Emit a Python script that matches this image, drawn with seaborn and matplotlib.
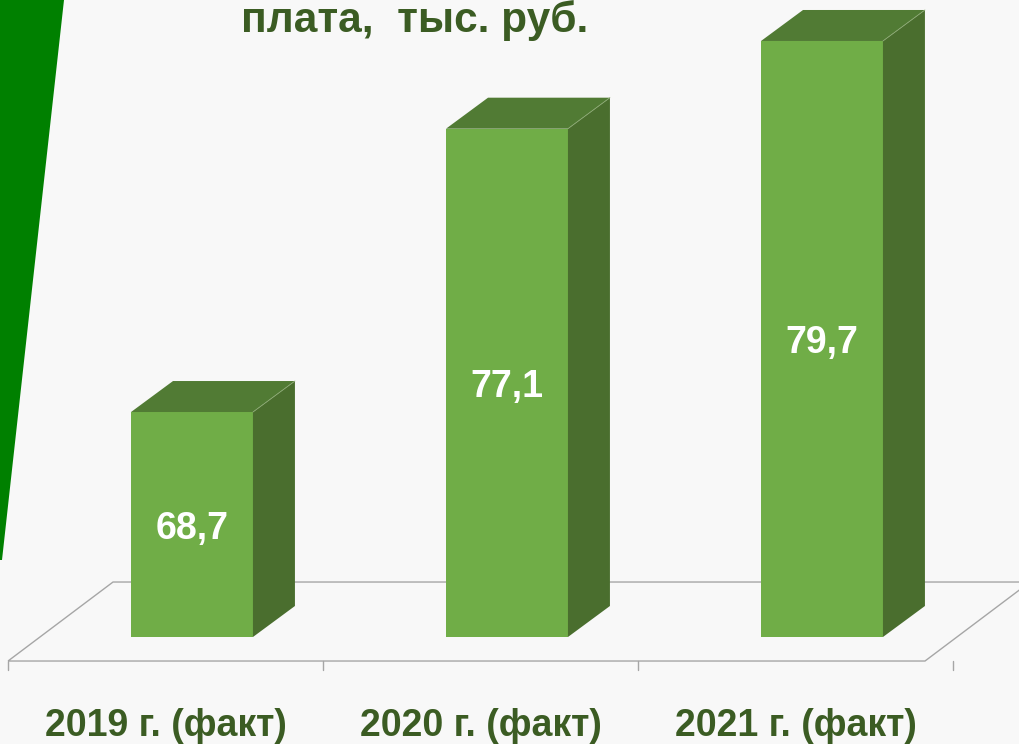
import matplotlib
matplotlib.use("Agg")
import matplotlib.pyplot as plt
from matplotlib.patches import Polygon
import seaborn as sns
import pandas as pd

# Data
categories = ["2019 г. (факт)", "2020 г. (факт)", "2021 г. (факт)"]
values = [68.7, 77.1, 79.7]
value_labels = ["68,7", "77,1", "79,7"]
title = "плата,  тыс. руб."

# Colors
bg = "#F8F8F8"
front = "#70AD47"
side = "#4A6E2E"
top = "#517B34"
text_green = "#3B5C23"

sns.set_style("white")
plt.rcParams['font.family'] = ['Liberation Sans', 'DejaVu Sans']

fig = plt.figure(figsize=(10.19, 7.44), dpi=100, facecolor=bg)
ax = fig.add_axes([0, 107 / 744, 1, 637 / 744])
ax.set_facecolor(bg)

df = pd.DataFrame({"year": categories, "value": values})
sns.barplot(data=df, x="year", y="value", width=0.387, color=front,
            saturation=1, edgecolor="none", ax=ax)

ymin, ymax = 62.03, 80.915
ax.set_xlim(-0.6095, 2.6254)
ax.set_ylim(ymin, ymax)
ax.axis("off")

# 3D depth of the bars (in data units)
dx, dy = 0.1333, 0.919
for p, v, lab in zip(ax.patches, values, value_labels):
    x0 = p.get_x()
    x1 = x0 + p.get_width()
    ax.add_patch(Polygon([(x1, ymin), (x1 + dx, ymin + dy), (x1 + dx, v + dy), (x1, v)],
                         closed=True, facecolor=side, edgecolor="none"))
    ax.add_patch(Polygon([(x0, v), (x0 + dx, v + dy), (x1 + dx, v + dy), (x1, v)],
                         closed=True, facecolor=top, edgecolor="none"))
    ax.plot([x1, x1 + dx], [v, v + dy], color="#8DAA75", lw=0.6)
    ax.text(x0 + p.get_width() / 2, (ymin + v) / 2 - 0.12, lab, ha="center", va="center",
            color="white", fontsize=27, fontweight="bold")

# floor (below the bars)
fx0, fy0 = -0.584, 61.318
fw = 2.911
fdx, fdy = 0.3333, 2.342
floor = Polygon([(fx0, fy0), (fx0 + fw, fy0), (fx0 + fw + fdx, fy0 + fdy), (fx0 + fdx, fy0 + fdy)],
                closed=True, facecolor="none", edgecolor="#A6A6A6", lw=1, clip_on=False, zorder=0)
ax.add_patch(floor)
for i in range(len(categories) + 1):
    tx = fx0 + i
    ax.plot([tx, tx], [fy0, fy0 - 0.27], color="#A6A6A6", lw=1, clip_on=False)

# category labels
for i, c in enumerate(categories):
    ax.text(i - 0.084, 59.39, c, ha="center", va="center", color=text_green,
            fontsize=27, fontweight="bold", clip_on=False)

# title (cut at the top)
fig.text(415 / 1019, 1 - 32 / 744, title, ha="center", va="baseline",
         color=text_green, fontsize=30.5, fontweight="bold")

# green wedge on the left
fig.add_artist(Polygon([(0, 1), (64 / 1019, 1), (2 / 1019, 1 - 560 / 744), (0, 1 - 560 / 744)],
                       closed=True, facecolor="#008000", edgecolor="none",
                       transform=fig.transFigure))

fig.savefig("out.png", dpi=100, facecolor=bg)
